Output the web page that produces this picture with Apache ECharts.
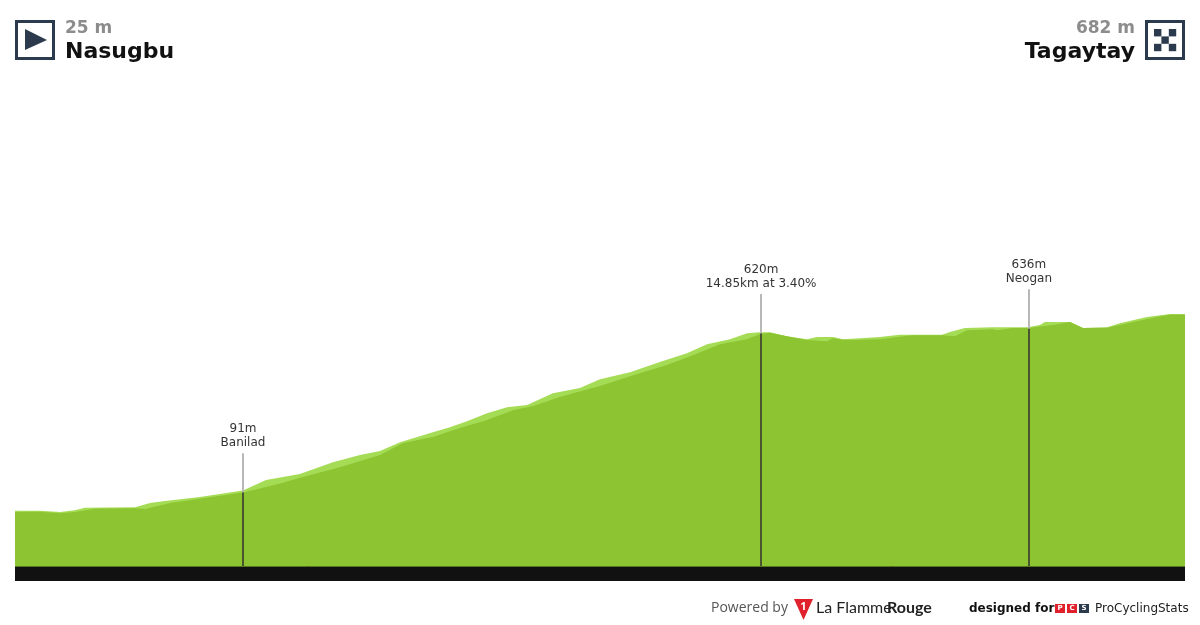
<!DOCTYPE html>
<html>
<head>
<meta charset="utf-8">
<title>Nasugbu - Tagaytay</title>
<script src="https://cdn.jsdelivr.net/npm/echarts@6/dist/echarts.min.js"></script>
<style>
  html, body { margin: 0; padding: 0; background: #fff; }
  #chart { width: 1200px; height: 625px; }
</style>
</head>
<body>
<div id="chart"></div>
<script>
// light top edge of the profile
const lightKm = [0, 0.75, 1.35, 1.79, 2.09, 3.59, 4.04, 4.49, 5.53, 6.82, 7.51, 8.52, 9.51, 10.32, 10.92, 11.52, 12.5, 13.01, 13.52, 14.12, 14.72, 15.32, 16.09, 16.9, 17.5, 18.4, 19.29, 20.1, 20.7, 21.39, 21.9, 22.29, 22.58, 23.09, 23.69, 23.99, 24.47, 24.77, 25.28, 25.87, 26.47, 27.73, 27.97, 28.42, 29.25, 30.3, 30.66, 30.81, 31.56, 31.95, 32.67, 33.05, 33.86, 34.55, 35];
const lightElev = [25, 25, 21, 27, 35, 37, 51, 58, 71, 93, 128, 148, 188, 212, 225, 255, 288, 305, 325, 352, 372, 379, 419, 436, 466, 489, 523, 553, 583, 600, 620, 623, 623, 610, 600, 607, 607, 600, 603, 607, 615, 615, 624, 637, 640, 640, 647, 657, 657, 637, 640, 653, 674, 684, 684];
// main body of the profile
const darkKm = [0, 0.75, 1.35, 1.79, 2.39, 3.59, 3.89, 4.64, 6.82, 7.48, 8.02, 8.52, 9.72, 10.92, 11.61, 12.5, 13.31, 14.12, 14.9, 15.5, 16.3, 16.81, 17.5, 18.49, 19.5, 20.28, 21.09, 21.9, 22.29, 22.58, 23.09, 23.69, 24.29, 24.47, 24.77, 25.07, 25.87, 26.86, 27.73, 28.12, 28.48, 29.25, 29.37, 29.85, 30.3, 31.05, 31.56, 31.95, 32.67, 33.45, 34.16, 34.55, 35];
const darkElev = [21, 22, 17, 21, 32, 34, 31, 51, 86, 104, 119, 136, 171, 212, 252, 272, 302, 329, 362, 376, 406, 422, 443, 479, 513, 546, 583, 600, 617, 621, 610, 597, 593, 603, 598, 597, 600, 613, 613, 610, 630, 633, 630, 637, 637, 647, 657, 637, 638, 657, 674, 682, 682];

// climbs and places on the route
const markerKm = [6.82, 22.32, 30.33];
const markerBase = [87, 620, 636];
const markerTop = [218, 751, 767];
const markerText = ['91m\nBanilad', '620m\n14.85km at 3.40%', '636m\nNeogan'];
const markerTick = ['6.5', '22.5', '30.5'];

const endKm = [0, 35];
const endTick = ['0', '35'];

const startName = 'Nasugbu';
const startHeight = '25 m';
const finishName = 'Tagaytay';
const finishHeight = '682 m';

const yFloor = -210;
const yBase = -160;
const yCeil = 1518;

const zip = (a, b) => a.map((v, i) => [v, b[i]]);

const navy = '#2c3a4d';
const sans = '"DejaVu Sans", sans-serif';

function areaSeries(name, km, elev, color) {
  return {
    name: name,
    type: 'line',
    data: zip(km, elev),
    showSymbol: false,
    lineStyle: { width: 0 },
    areaStyle: { color: color, opacity: 1, origin: yBase },
    silent: true
  };
}

const chart = echarts.init(document.getElementById('chart'));

// checker flag squares, corners and centre
const checker = [];
[0, 1, 2].forEach(function (r) {
  [0, 1, 2].forEach(function (c) {
    if ((r + c) % 2 === 0) {
      checker.push({ type: 'rect', shape: { x: 1154 + c * 7.4, y: 29 + r * 7.4, width: 7.4, height: 7.4 }, style: { fill: navy } });
    }
  });
});

chart.setOption({
  animation: false,
  backgroundColor: '#fff',
  grid: { left: 15, width: 1170, top: 65, bottom: 44 },
  xAxis: { type: 'value', min: 0, max: 35, show: false },
  yAxis: { type: 'value', min: yFloor, max: yCeil, show: false },
  series: [
    Object.assign(areaSeries('light', lightKm, lightElev, '#a5dc55'), {
      markArea: {
        silent: true,
        itemStyle: { color: '#111111' },
        data: [[{ xAxis: 0, yAxis: yFloor }, { xAxis: 35, yAxis: yBase }]]
      }
    }),
    Object.assign(areaSeries('dark', darkKm, darkElev, '#8cc432'), {
      markLine: {
        silent: true,
        symbol: 'none',
        animation: false,
        data: markerKm.map(function (km, i) {
          return [
            { coord: [km, yBase], lineStyle: { color: '#48552f', width: 2, type: 'solid' }, label: { show: false } },
            { coord: [km, markerBase[i]] }
          ];
        }).concat(markerKm.map(function (km, i) {
          return [
            {
              coord: [km, markerBase[i]],
              lineStyle: { color: '#b8b8b8', width: 2, type: 'solid' },
              label: {
                show: true,
                position: 'end',
                formatter: markerText[i],
                color: '#333',
                fontFamily: sans,
                fontSize: 12,
                lineHeight: 14,
                distance: 3
              }
            },
            { coord: [km, markerTop[i]] }
          ];
        })).concat([[
          { coord: [0, yBase], lineStyle: { color: '#55761f', width: 1, type: 'solid' }, label: { show: false } },
          { coord: [35, yBase] }
        ]])
      }
    }),
    {
      name: 'km ticks',
      type: 'scatter',
      symbolSize: 0,
      silent: true,
      data: markerKm.map(function (km, i) {
        return { value: [km, yBase], label: { formatter: markerTick[i] } };
      }),
      label: {
        show: true,
        position: 'insideBottomLeft',
        offset: [2, -1],
        color: '#2d3a14',
        fontFamily: sans,
        fontSize: 10
      }
    },
    {
      name: 'km ends',
      type: 'scatter',
      symbolSize: 0,
      silent: true,
      data: endKm.map(function (km, i) {
        return {
          value: [km, yBase],
          label: { formatter: endTick[i], position: i === 0 ? 'insideBottomLeft' : 'insideBottomRight', offset: i === 0 ? [1, -1] : [-1, -1] }
        };
      }),
      label: {
        show: true,
        color: '#fff',
        fontFamily: '"DejaVu Serif", serif',
        fontWeight: 'bold',
        fontSize: 13
      }
    }
  ],
  graphic: [
    // start block
    { type: 'rect', shape: { x: 16.5, y: 21.5, width: 37, height: 37 }, style: { fill: '#fff', stroke: navy, lineWidth: 3 } },
    { type: 'polygon', shape: { points: [[25, 29], [47, 40], [25, 50]] }, style: { fill: navy } },
    { type: 'text', style: { x: 65, y: 29, text: startHeight, fill: '#8c8c8c', font: 'bold 17px ' + sans, textVerticalAlign: 'middle' } },
    { type: 'text', style: { x: 65, y: 52, text: startName, fill: '#111', font: 'bold 22px ' + sans, textVerticalAlign: 'middle' } },
    // finish block
    { type: 'rect', shape: { x: 1146.5, y: 21.5, width: 37, height: 37 }, style: { fill: '#fff', stroke: navy, lineWidth: 3 } }
  ].concat(checker).concat([
    { type: 'text', style: { x: 1135, y: 29, text: finishHeight, fill: '#8c8c8c', font: 'bold 17px ' + sans, textAlign: 'right', textVerticalAlign: 'middle' } },
    { type: 'text', style: { x: 1135, y: 52, text: finishName, fill: '#111', font: 'bold 22px ' + sans, textAlign: 'right', textVerticalAlign: 'middle' } },
    // footer credits
    { type: 'text', style: { x: 711, y: 608, text: 'Powered by', fill: '#555', font: '14px "Open Sans", sans-serif', textVerticalAlign: 'middle' } },
    { type: 'polygon', shape: { points: [[794, 599], [813, 599], [803.5, 620]] }, style: { fill: '#e0202c' } },
    { type: 'text', style: { x: 803.5, y: 607, text: '1', fill: '#fff', font: 'bold 11px "Open Sans", sans-serif', textAlign: 'center', textVerticalAlign: 'middle' } },
    { type: 'text', style: { x: 816, y: 608, text: 'La Flamme', fill: '#222', font: '16px "Lato", sans-serif', textVerticalAlign: 'middle' } },
    { type: 'text', style: { x: 887, y: 608, text: 'Rouge', fill: '#222', font: 'bold 16px "Lato", sans-serif', textVerticalAlign: 'middle' } },
    { type: 'text', style: { x: 969, y: 608.5, text: 'designed for', fill: '#111', font: 'bold 12px ' + sans, textVerticalAlign: 'middle' } },
    { type: 'rect', shape: { x: 1055, y: 604, width: 10, height: 9 }, style: { fill: '#e0202c' } },
    { type: 'rect', shape: { x: 1067, y: 604, width: 10, height: 9 }, style: { fill: '#e0202c' } },
    { type: 'rect', shape: { x: 1079, y: 604, width: 10, height: 9 }, style: { fill: navy } },
    { type: 'text', style: { x: 1060, y: 608.5, text: 'P', fill: '#fff', font: 'bold 7px ' + sans, textAlign: 'center', textVerticalAlign: 'middle' } },
    { type: 'text', style: { x: 1072, y: 608.5, text: 'C', fill: '#fff', font: 'bold 7px ' + sans, textAlign: 'center', textVerticalAlign: 'middle' } },
    { type: 'text', style: { x: 1084, y: 608.5, text: 'S', fill: '#fff', font: 'bold 7px ' + sans, textAlign: 'center', textVerticalAlign: 'middle' } },
    { type: 'text', style: { x: 1095, y: 608.5, text: 'ProCyclingStats', fill: '#222', font: '12px ' + sans, textVerticalAlign: 'middle' } }
  ])
});
</script>
</body>
</html>
